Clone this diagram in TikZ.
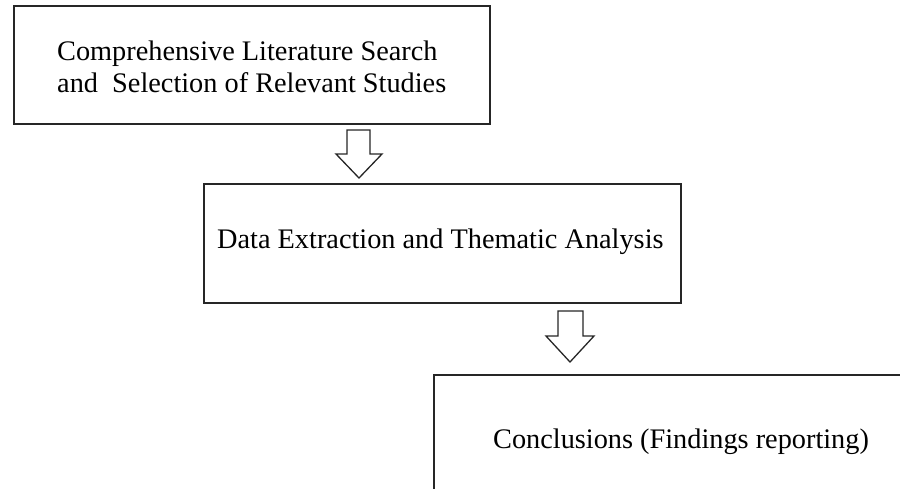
\documentclass[tikz,border=0pt]{standalone}
\usepackage{fontspec}
\setmainfont{Liberation Serif}
\begin{document}
\begin{tikzpicture}[x=1pt,y=-1pt,
  box/.style={draw=black!85,line width=1.3pt,inner sep=0pt},
  txt/.style={inner sep=0pt,anchor=base west,font=\fontsize{28.3}{32}\selectfont},
  blockarrow/.style={draw=black!85,line width=1.3pt,fill=white,line join=miter}]
\useasboundingbox (0,0) rectangle (900,488);
\clip (0,0) rectangle (900,488);
\node[box,minimum width=476pt,minimum height=118pt] (b1) at (252,65) {};
\node[box,minimum width=477pt,minimum height=119pt] (b2) at (442.5,243.5) {};
\node[box,minimum width=492pt,minimum height=130pt] (b3) at (680,440) {};
\node[txt] (t1a) at (57,60) {Comprehensive Literature Search};
\node[txt] (t1b) at (57,92) {and\ \ Selection of Relevant Studies};
\node[txt] (t2) at (217,248) {Data Extraction and Thematic Analysis};
\node[txt] (t3) at (493,448) {Conclusions (Findings reporting)};
\draw[blockarrow] (347,130) -- (370,130) -- (370,154) -- (382,154) -- (359,178)
  -- (336,154) -- (347,154) -- cycle;
\draw[blockarrow] (558,311) -- (583,311) -- (583,336) -- (594,336) -- (570,362)
  -- (546,336) -- (558,336) -- cycle;
\end{tikzpicture}
\end{document}
